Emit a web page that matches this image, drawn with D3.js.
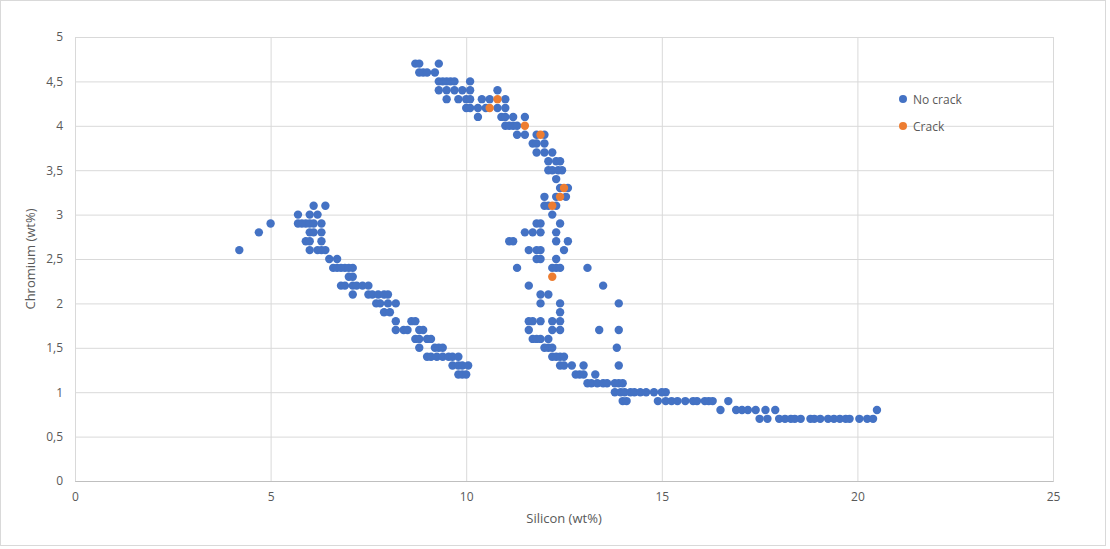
<!DOCTYPE html>
<html>
<head>
<meta charset="utf-8">
<script src="https://cdn.jsdelivr.net/npm/d3@7"></script>
<style>
  body { margin: 0; background: #fff; }
  svg text { font-family: "Open Sans", "Liberation Sans", sans-serif; fill: #595959; }
</style>
</head>
<body>
<svg id="chart" width="1110" height="549"></svg>
<script>
// silicon values per chromium level
var noCrackRows = [
    [4.7, [8.7, 8.8, 9.3]],
    [4.6, [8.8, 8.9, 9.0, 9.2]],
    [4.5, [9.3, 9.4, 9.5, 9.6, 9.7, 10.1]],
    [4.4, [9.3, 9.5, 9.7, 9.9, 10.1, 10.8]],
    [4.3, [9.5, 9.8, 10.0, 10.1, 10.4, 10.6, 11.0]],
    [4.2, [10.0, 10.1, 10.3, 10.5, 10.8, 11.0]],
    [4.1, [10.3, 10.9, 11.0, 11.2, 11.5]],
    [4.0, [11.0, 11.1, 11.2, 11.3]],
    [3.9, [11.3, 11.5, 11.8, 12.0]],
    [3.8, [11.7, 11.8, 12.0]],
    [3.7, [11.8, 12.0, 12.2]],
    [3.6, [12.1, 12.3, 12.4]],
    [3.5, [12.1, 12.2, 12.35, 12.45]],
    [3.4, [12.3]],
    [3.3, [12.4, 12.6]],
    [3.2, [12.0, 12.3, 12.55]],
    [3.1, [6.1, 6.4, 12.0, 12.1, 12.3]],
    [3.0, [5.7, 6.0, 6.2, 12.2]],
    [2.9, [5.0, 5.7, 5.8, 5.9, 6.0, 6.1, 6.3, 11.8, 11.9, 12.4]],
    [2.8, [4.7, 6.0, 6.1, 6.3, 11.5, 11.7, 11.9, 12.3]],
    [2.7, [5.9, 6.0, 6.3, 11.1, 11.2, 12.3, 12.6]],
    [2.6, [4.2, 6.0, 6.2, 6.3, 6.4, 11.6, 11.8, 11.9, 12.5]],
    [2.5, [6.5, 6.7, 11.8, 11.9, 12.3]],
    [2.4, [6.6, 6.7, 6.8, 6.9, 7.0, 7.1, 11.3, 12.2, 12.3, 12.4, 13.1]],
    [2.3, [7.0, 7.1]],
    [2.2, [6.8, 6.9, 7.1, 7.2, 7.35, 7.5, 11.6, 13.5]],
    [2.1, [7.1, 7.5, 7.6, 7.75, 7.9, 8.0, 11.9, 12.1]],
    [2.0, [7.7, 7.8, 8.0, 8.2, 11.9, 12.4, 13.9]],
    [1.9, [7.9, 8.05, 12.4]],
    [1.8, [8.2, 8.6, 8.7, 11.6, 11.7, 11.9, 12.2, 12.4]],
    [1.7, [8.2, 8.4, 8.5, 8.8, 8.9, 11.6, 12.2, 12.4, 13.4, 13.9]],
    [1.6, [8.7, 8.8, 9.0, 9.1, 11.7, 11.8, 11.9, 12.1]],
    [1.5, [8.8, 9.2, 9.3, 9.4, 12.0, 12.1, 12.2, 13.85]],
    [1.4, [9.0, 9.1, 9.25, 9.4, 9.55, 9.65, 9.8, 12.2, 12.3, 12.4, 12.5]],
    [1.3, [9.65, 9.8, 9.9, 10.05, 12.4, 12.5, 12.7, 13.0, 13.9]],
    [1.2, [9.8, 9.9, 10.0, 12.8, 12.9, 13.0, 13.3]],
    [1.1, [13.1, 13.2, 13.35, 13.5, 13.6, 13.8, 13.9, 14.0]],
    [1.0, [13.8, 13.95, 14.05, 14.2, 14.3, 14.45, 14.6, 14.8, 15.0, 15.1]],
    [0.9, [14.0, 14.1, 14.9, 15.1, 15.25, 15.4, 15.6, 15.8, 15.9, 16.1, 16.2, 16.3, 16.7]],
    [0.8, [16.5, 16.9, 17.05, 17.2, 17.4, 17.65, 17.9, 20.5]],
    [0.7, [17.5, 17.7, 18.0, 18.15, 18.3, 18.4, 18.55, 18.8, 18.9, 19.05, 19.25, 19.4, 19.55, 19.7, 19.8, 20.05, 20.25, 20.4]]
];

var crackSi = [10.8, 10.6, 11.5, 11.9, 12.5, 12.4, 12.2, 12.2];
var crackCr = [4.3, 4.2, 4.0, 3.9, 3.3, 3.2, 3.1, 2.3];

var xTicks = [0, 5, 10, 15, 20, 25];
var yTicks = [0, 0.5, 1, 1.5, 2, 2.5, 3, 3.5, 4, 4.5, 5];
var seriesNames = ["No crack", "Crack"];
var seriesColors = ["#4472C4", "#ED7D31"];

var noCrack = [];
noCrackRows.forEach(function(r) {
    r[1].forEach(function(si) { noCrack.push({si: si, cr: r[0]}); });
});
var crack = crackSi.map(function(si, i) { return {si: si, cr: crackCr[i]}; });

var svg = d3.select('#chart');
var W = 1110, H = 549;
var margin = {top: 37, right: 57, bottom: 68, left: 75};
var w = W - margin.left - margin.right;
var h = H - margin.top - margin.bottom;

// outer frame
svg.append("rect")
    .attr("x", 0.5).attr("y", 0.5)
    .attr("width", W - 5).attr("height", H - 4)
    .style("fill", "none")
    .style("stroke", "#d9d9d9");

var x = d3.scaleLinear().domain([0, 25]).range([0, w]);
var y = d3.scaleLinear().domain([0, 5]).range([h, 0]);
var fmt = function(d) { return String(d).replace(".", ","); };

var g = svg.append("g")
    .attr("transform", "translate(" + margin.left + "," + margin.top + ")");

// gridlines
g.append("g")
    .attr("class", "grid-y")
    .call(d3.axisLeft(y).tickValues(yTicks).tickSize(-w).tickFormat(""))
    .call(function(s) {
        s.select(".domain").remove();
        s.selectAll("line").style("stroke", "#d9d9d9");
    });

g.append("g")
    .attr("class", "grid-x")
    .attr("transform", "translate(0," + h + ")")
    .call(d3.axisBottom(x).tickValues(xTicks).tickSize(-h).tickFormat(""))
    .call(function(s) {
        s.select(".domain").style("stroke", "#bfbfbf");
        s.selectAll("line").style("stroke", "#d9d9d9");
    });

// tick labels
g.append("g")
    .attr("transform", "translate(0," + h + ")")
    .call(d3.axisBottom(x).tickValues(xTicks).tickSize(0).tickPadding(11).tickFormat(fmt))
    .call(function(s) {
        s.select(".domain").remove();
        s.selectAll("text").style("font-size", "12px").style("fill", "#595959")
            .style("font-family", "'Open Sans', sans-serif");
    });

g.append("g")
    .call(d3.axisLeft(y).tickValues(yTicks).tickSize(0).tickPadding(12).tickFormat(fmt))
    .call(function(s) {
        s.select(".domain").remove();
        s.selectAll("text").style("font-size", "12px").style("fill", "#595959")
            .style("font-family", "'Open Sans', sans-serif");
    });

// points
g.selectAll(".nocrack")
    .data(noCrack)
    .enter().append("circle")
    .attr("class", "nocrack")
    .attr("cx", function(d) { return x(d.si); })
    .attr("cy", function(d) { return y(d.cr); })
    .attr("r", 4.2)
    .style("fill", seriesColors[0]);

g.selectAll(".crack")
    .data(crack)
    .enter().append("circle")
    .attr("class", "crack")
    .attr("cx", function(d) { return x(d.si); })
    .attr("cy", function(d) { return y(d.cr); })
    .attr("r", 4.2)
    .style("fill", seriesColors[1]);

// axis titles
svg.append("text")
    .attr("x", margin.left + w / 2)
    .attr("y", 523)
    .attr("text-anchor", "middle")
    .style("font-size", "13px")
    .text("Silicon (wt%)");

svg.append("text")
    .attr("transform", "translate(35," + (margin.top + h / 2) + ") rotate(-90)")
    .attr("text-anchor", "middle")
    .style("font-size", "13px")
    .text("Chromium (wt%)");

// legend
var legend = svg.selectAll(".legend")
    .data(seriesNames)
    .enter().append("g")
    .attr("class", "legend")
    .attr("transform", function(d, i) { return "translate(903," + (99 + i * 27) + ")"; });

legend.append("circle")
    .attr("r", 4)
    .style("fill", function(d, i) { return seriesColors[i]; });

legend.append("text")
    .attr("x", 10)
    .attr("y", 4.5)
    .style("font-size", "12px")
    .text(function(d) { return d; });
</script>
</body>
</html>
